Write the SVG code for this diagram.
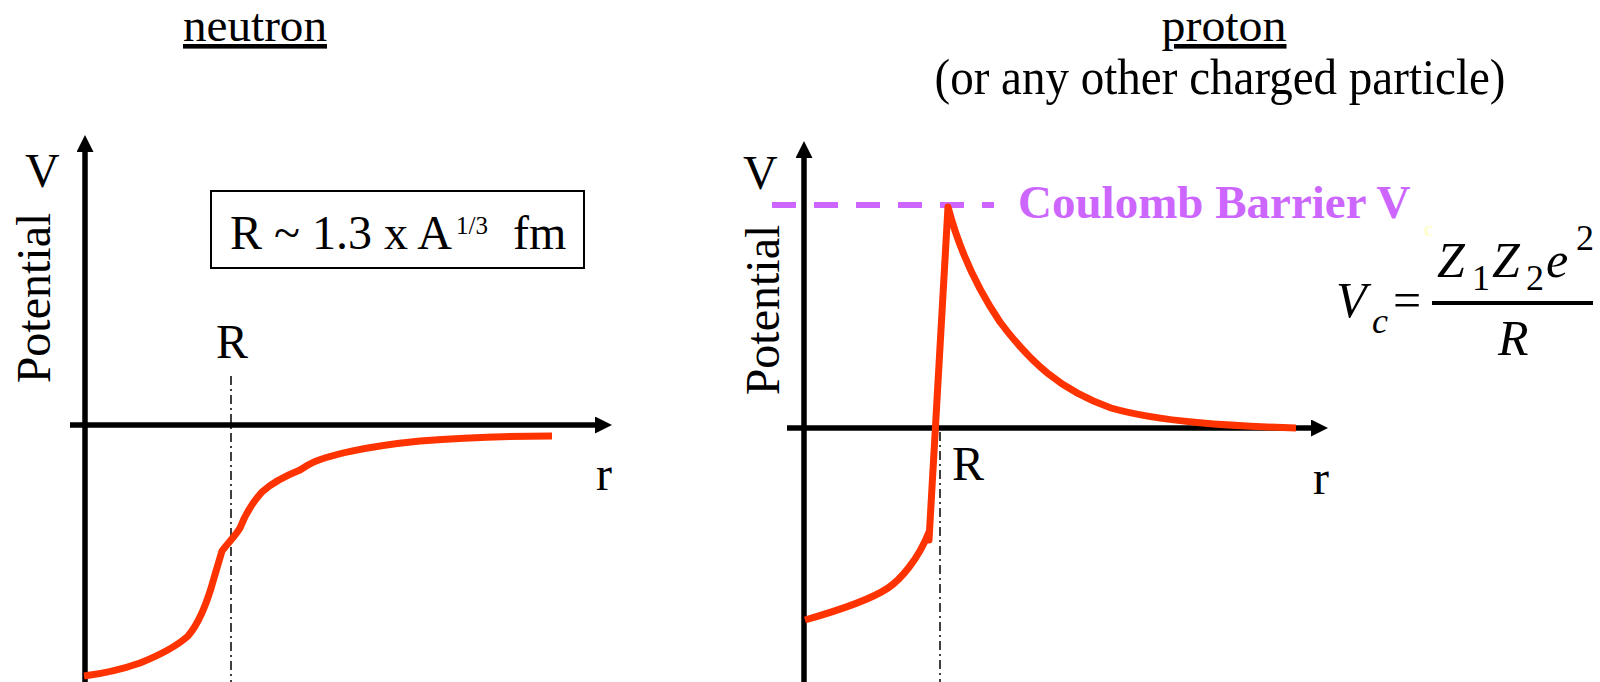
<svg xmlns="http://www.w3.org/2000/svg" width="1600" height="682" viewBox="0 0 1600 682">
<defs>
<style>
.t{font-family:"Liberation Serif","Times New Roman",serif;fill:#000}
.ax{stroke:#000;stroke-width:5.5;fill:none}
.curve{stroke:#FF3300;stroke-width:7;fill:none;stroke-linejoin:round}
.dd{stroke:#000;stroke-width:1.5;stroke-dasharray:9 4 2 4;fill:none}
.m{font-family:"Liberation Serif","Times New Roman",serif;font-style:italic;fill:#000}
</style>
<marker id="arr" markerUnits="userSpaceOnUse" markerWidth="18" markerHeight="18" refX="0" refY="8.5" orient="auto">
<path d="M0,0 L17,8.5 L0,17 Z" fill="#000"/>
</marker>
</defs>
<rect width="1600" height="682" fill="#fff"/>

<g id="neutron-title">
<text class="t" x="255" y="41" font-size="46" text-anchor="middle" textLength="144" lengthAdjust="spacingAndGlyphs" text-decoration="underline">neutron</text>
</g>

<g id="proton-title">
<text class="t" x="1224" y="41" font-size="46" text-anchor="middle" textLength="125" lengthAdjust="spacingAndGlyphs" text-decoration="underline">proton</text>
<text class="t" x="1220" y="94" font-size="51" text-anchor="middle" textLength="571" lengthAdjust="spacingAndGlyphs">(or any other charged particle)</text>
</g>

<g id="connectors">
<line class="ax" x1="85" y1="682" x2="85" y2="152" marker-end="url(#arr)"/>
<line class="ax" x1="70" y1="425" x2="595" y2="425" marker-end="url(#arr)"/>
<line class="ax" x1="804" y1="682" x2="804" y2="158" marker-end="url(#arr)"/>
<line class="ax" x1="787" y1="428" x2="1311" y2="428" marker-end="url(#arr)"/>
<line class="dd" x1="231" y1="376" x2="231" y2="682"/>
<line class="dd" x1="940" y1="432" x2="940" y2="682"/>
<line x1="772" y1="205" x2="994" y2="205" stroke="#CC66FF" stroke-width="6" stroke-dasharray="24 18"/>
</g>

<g id="neutron-curve">
<path class="curve" d="M84,676 C100,674 120,670 140,663 C160,655 178,645 188,636 C200,622 208,600 214,578 L222,551 C228,543 236,535 240,528 C245,515 252,503 262,492 C275,480 290,474 300,470 L308,465 C325,455 370,446 420,441 C470,437 520,436 552,436"/>
</g>

<g id="proton-curve">
<path class="curve" d="M805,620 C840,610 870,600 888,588 C900,580 918,560 929,532 L929,540 L948,207 C958,245 975,285 1000,322 C1030,362 1060,390 1111,408 C1160,422 1230,426 1296,428"/>
</g>

<g id="neutron-labels">
<text class="t" x="25" y="187" font-size="48">V</text>
<text class="t" font-size="48" text-anchor="middle" transform="translate(50,298) rotate(-90)">Potential</text>
<text class="t" x="216" y="358" font-size="48">R</text>
<text class="t" x="596" y="490" font-size="48">r</text>
</g>

<g id="radius-box">
<rect x="211" y="191" width="373" height="77" fill="none" stroke="#000" stroke-width="2"/>
<text class="t" x="230" y="249" font-size="48">R ~ 1.3 x A</text>
<text class="t" x="456" y="234" font-size="25">1/3</text>
<text class="t" x="513" y="249" font-size="48">fm</text>
</g>

<g id="proton-labels">
<text class="t" x="743" y="189" font-size="48">V</text>
<text class="t" font-size="48" text-anchor="middle" transform="translate(779,310) rotate(-90)">Potential</text>
<text class="t" x="952" y="480" font-size="48">R</text>
<text class="t" x="1313" y="494" font-size="48">r</text>
</g>

<g id="coulomb-label">
<text class="t" x="1018" y="218" font-size="47" font-weight="bold" style="fill:#CC66FF">Coulomb Barrier V</text>
<text class="t" x="1424" y="236" font-size="20" font-weight="bold" style="fill:#FFFFCC">c</text>
</g>

<g id="formula">
<text class="m" x="1336" y="317" font-size="50">V</text>
<text class="m" x="1372" y="333" font-size="36">c</text>
<text class="t" x="1393" y="317" font-size="50">=</text>
<line x1="1432" y1="303" x2="1593" y2="303" stroke="#000" stroke-width="4"/>
<text class="m" x="1437" y="277" font-size="50">Z</text>
<text class="t" x="1472" y="290" font-size="36">1</text>
<text class="m" x="1492" y="277" font-size="50">Z</text>
<text class="t" x="1526" y="290" font-size="36">2</text>
<text class="m" x="1546" y="277" font-size="50">e</text>
<text class="t" x="1576" y="250" font-size="36">2</text>
<text class="m" x="1498" y="355" font-size="50">R</text>
</g>
</svg>
